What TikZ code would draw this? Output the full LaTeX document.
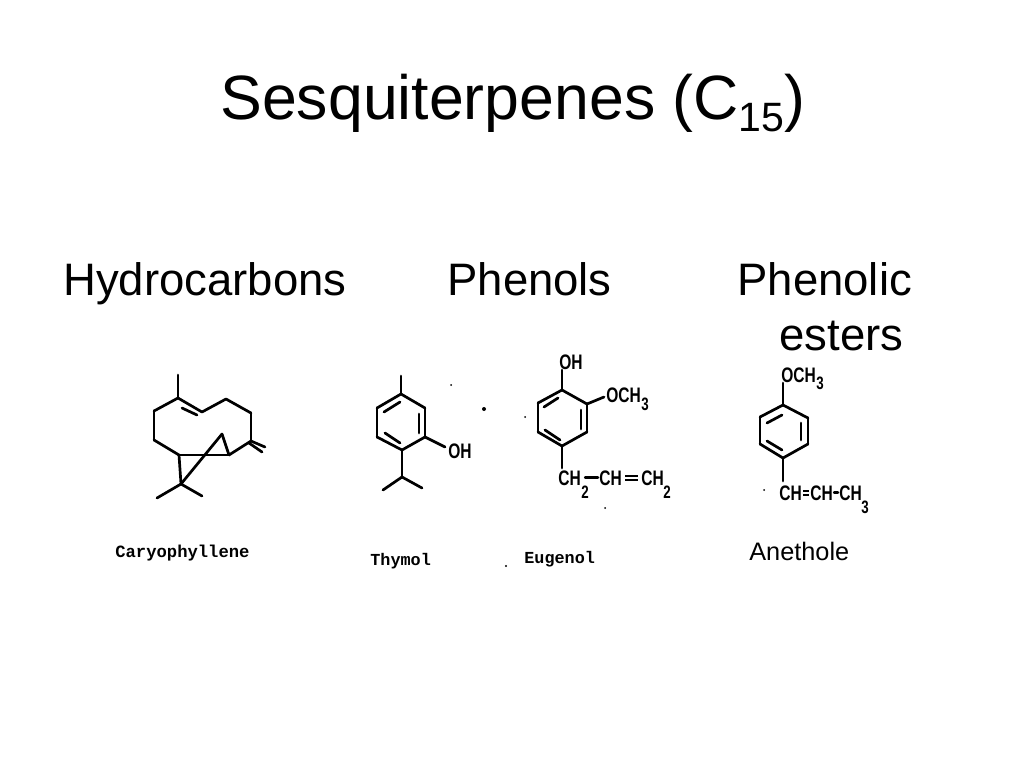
\documentclass[tikz,border=0pt]{standalone}
\usepackage{fontspec}
\setmainfont{Liberation Sans}
\newfontfamily\chemfont[FakeStretch=0.74]{Liberation Sans}
\newfontfamily\capfont{Liberation Mono}
\newcommand{\pxfont}[1]{\fontsize{#1}{#1}\selectfont}

\begin{document}
\begin{tikzpicture}[x=1pt,y=-1pt,line width=2.7pt,line cap=round,
                    head node/.style={anchor=base west,inner sep=0pt,font=\pxfont{45.5}},
                    chem node/.style={anchor=base west,inner sep=0pt,font=\chemfont\bfseries\pxfont{21}},
                    sub node/.style={anchor=base west,inner sep=0pt,font=\chemfont\bfseries\pxfont{18}},
                    name node/.style={anchor=base west,inner sep=0pt,font=\capfont\bfseries\pxfont{16.8}},
                    speck/.style={fill=black,line width=0pt}]
\useasboundingbox (0,0) rectangle (1024,768);

% headings
\node[anchor=base west,inner sep=0pt,font=\pxfont{62.6}] (title) at (219,119) {Sesquiterpenes (C\raisebox{-12pt}{\pxfont{41}15})};
\node[head node] (hydro) at (62,295) {Hydrocarbons};
\node[head node] (phen) at (446,295) {Phenols};
\node[head node] (ester) at (736,295) {Phenolic};
\node[head node] (ester2) at (778,350) {esters};

% caryophyllene
\coordinate (me) at (178,375);
\coordinate (c1) at (178,398);
\coordinate (c2) at (202,412);
\coordinate (c3) at (226,399);
\coordinate (c4) at (251,413);
\coordinate (c5) at (251,441);
\coordinate (c6) at (229,455);
\coordinate (c7) at (222,434);
\coordinate (c9) at (179,455);
\coordinate (c10) at (154,440);
\coordinate (c11) at (154,411);
\coordinate (c12) at (181,484);
\coordinate (m1) at (157,498);
\coordinate (m2) at (202,496);
\coordinate (d1) at (182,408);
\coordinate (d2) at (197,415);
\coordinate (x1) at (265,447);
\coordinate (x2) at (249,443);
\coordinate (x3) at (262,452);

\path (me) edge (c1)
(c1) edge (c2) edge (c11)
(c2) edge (c3)
(c3) edge (c4)
(c4) edge (c5)
(c5) edge (c6) edge (x1)
(c6) edge (c7) edge (c9)
(c7) edge (c12)
(c9) edge (c10) edge (c12)
(c10) edge (c11)
(c12) edge (m1) edge (m2)
(d1) edge (d2)
(x2) edge (x3);

% thymol
\coordinate (tm) at (401,376);
\coordinate (t1) at (401,394);
\coordinate (t2) at (425,408);
\coordinate (t3) at (425,437);
\coordinate (t4) at (402,450);
\coordinate (t5) at (377,437);
\coordinate (t6) at (377,408);
\coordinate (ti) at (402,477);
\coordinate (ti1) at (383,490);
\coordinate (ti2) at (422,488);
\coordinate (ta1) at (419,414);
\coordinate (ta2) at (419,433);
\coordinate (tb1) at (384,412);
\coordinate (tb2) at (400,402);
\coordinate (tc1) at (385,433);
\coordinate (tc2) at (400,443);
\coordinate (to) at (445,447);
\node[chem node] (toh) at (447,458) {OH};

\path (tm) edge (t1)
(t1) edge (t2) edge (t6)
(t2) edge (t3)
(t3) edge (t4) edge (to)
(t4) edge (t5) edge (ti)
(t5) edge (t6)
(ti) edge (ti1) edge (ti2)
(ta1) edge (ta2)
(tb1) edge (tb2)
(tc1) edge (tc2);

% eugenol
\node[chem node] (eoh) at (558,369) {OH};
\node[chem node] (eoc) at (605,402) {OCH};
\node[sub node] (eoc3) at (640,410) {3};
\node[chem node] (ech1) at (557,485) {CH};
\node[sub node] (ech1s) at (580,498) {2};
\node[chem node] (ech2) at (598,485) {CH};
\node[chem node] (ech3) at (640,485) {CH};
\node[sub node] (ech3s) at (662,498) {2};
\coordinate (e1) at (562,390);
\coordinate (e2) at (587,404);
\coordinate (e3) at (587,432);
\coordinate (e4) at (562,446);
\coordinate (e5) at (538,432);
\coordinate (e6) at (538,403);
\coordinate (ea1) at (581,410);
\coordinate (ea2) at (581,429);
\coordinate (eb1) at (544,407);
\coordinate (eb2) at (558,398);
\coordinate (ec1) at (545,430);
\coordinate (ec2) at (560,440);
\coordinate (et) at (562,370);
\coordinate (eo) at (604,397);
\coordinate (ed) at (562,468);

\path (et) edge (e1)
(e1) edge (e2) edge (e6)
(e2) edge (e3) edge (eo)
(e3) edge (e4)
(e4) edge (e5) edge (ed)
(e5) edge (e6)
(ea1) edge (ea2)
(eb1) edge (eb2)
(ec1) edge (ec2);
\draw[shorten <=3pt] (ech1.east) -- (ech2.west);
\draw[double,double distance=2.5pt,line width=2pt,line cap=butt,shorten <=2pt,shorten >=2pt] (ech2.east) -- (ech3.west);

% anethole
\node[chem node] (aoc) at (780,382) {OCH};
\node[sub node] (aoc3) at (815,389) {3};
\node[chem node] (ach1) at (778,500) {CH};
\node[chem node] (ach2) at (809,500) {CH};
\node[chem node] (ach3) at (838,500) {CH};
\node[sub node] (ach3s) at (860,513) {3};
\coordinate (a0) at (783,383);
\coordinate (a1) at (783,405);
\coordinate (a2) at (808,418);
\coordinate (a3) at (808,444);
\coordinate (a4) at (783,458);
\coordinate (a5) at (760,444);
\coordinate (a6) at (760,417);
\coordinate (aa1) at (801,423);
\coordinate (aa2) at (801,440);
\coordinate (ab1) at (767,423);
\coordinate (ab2) at (782,415);
\coordinate (ac1) at (767,441);
\coordinate (ac2) at (782,450);
\coordinate (ad) at (783,481);

\path (a0) edge (a1)
(a1) edge (a2) edge (a6)
(a2) edge (a3)
(a3) edge (a4)
(a4) edge (a5) edge (ad)
(a5) edge (a6)
(aa1) edge (aa2)
(ab1) edge (ab2)
(ac1) edge (ac2);
\draw[double,double distance=2.5pt,line width=2pt,line cap=butt] (ach1.east) -- (ach2.west);
\draw (ach2.east) -- (ach3.west);

% names
\node[name node,font=\capfont\bfseries\pxfont{17.2}] (cary) at (114,557) {Caryophyllene};
\node[name node] (thym) at (369,565) {Thymol};
\node[name node] (euge) at (523,563) {Eugenol};
\node[anchor=base west,inner sep=0pt,font=\pxfont{25.3}] (anet) at (748,560) {Anethole};

% specks
\fill[speck] (451,385) circle (1pt);
\fill[speck] (484,409) circle (2pt);
\fill[speck] (525,417) circle (1pt);
\fill[speck] (605,508) circle (1pt);
\fill[speck] (506,566) circle (1.2pt);
\fill[speck] (764,490) circle (1pt);
\end{tikzpicture}
\end{document}
